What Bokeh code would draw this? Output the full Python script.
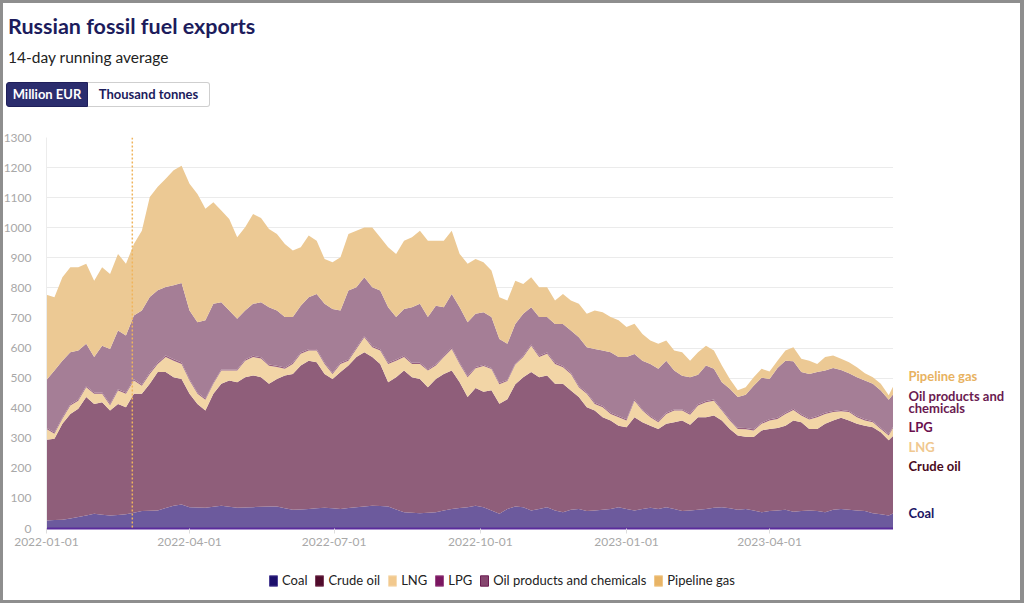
import pandas as pd
from bokeh.plotting import figure
from bokeh.models import (ColumnDataSource, Range1d, FixedTicker, Span, Label,
                          Legend, LegendItem, Div, DatetimeTickFormatter)
from bokeh.layouts import column, row
from bokeh.embed import file_html
from bokeh.resources import INLINE

# ---------------- data (Million EUR, 14-day running average) ----------------
start_date = "2022-01-01"
day_offsets = [0, 5, 10, 15, 20, 25, 30, 35, 40, 45, 50, 55, 60, 65, 70, 75, 80, 85, 90, 95,
               100, 105, 110, 115, 120, 125, 130, 135, 140, 145, 150, 155, 160, 165, 170, 175,
               180, 185, 190, 195, 200, 205, 210, 215, 220, 225, 230, 235, 240, 245, 250, 255,
               260, 265, 270, 275, 280, 285, 290, 295, 300, 305, 310, 315, 320, 325, 330, 335,
               340, 345, 350, 355, 360, 365, 370, 375, 380, 385, 390, 395, 400, 405, 410, 415,
               420, 425, 430, 435, 440, 445, 450, 455, 460, 465, 470, 475, 480, 485, 490, 495,
               500, 505, 510, 515, 520, 525, 530, 533]

coal = [27, 28, 29, 33, 38, 43, 49, 46, 43, 45, 47, 52, 58, 59, 60, 68, 76, 80, 71, 70,
        69, 72, 76, 72, 69, 70, 71, 72, 73, 73, 67, 62, 63, 65, 67, 69,
        67, 65, 68, 71, 73, 76, 75, 73, 63, 54, 52, 51, 52, 54, 60, 65,
        68, 71, 76, 71, 60, 49, 65, 73, 71, 60, 65, 71, 60, 54, 62, 65,
        58, 60, 62, 65, 71, 65, 60, 65, 69, 65, 71, 65, 58, 60, 62, 65,
        69, 71, 67, 62, 65, 60, 54, 58, 60, 62, 56, 58, 60, 58, 54, 62,
        65, 62, 60, 58, 51, 47, 43, 51]

crude_oil = [268, 270, 319, 348, 360, 394, 365, 374, 349, 369, 356, 396, 390, 422, 460, 452, 427, 417, 377, 344,
             323, 376, 405, 420, 417, 433, 438, 431, 408, 424, 442, 452, 479, 493, 486, 445,
             430, 455, 474, 499, 513, 494, 472, 413, 440, 471, 451, 446, 418, 443, 454, 460,
             418, 366, 391, 384, 400, 366, 365, 407, 432, 460, 438, 438, 421, 427, 397, 372,
             345, 332, 308, 294, 271, 272, 310, 288, 273, 266, 277, 288, 301, 285, 308, 305,
             307, 288, 264, 247, 240, 244, 272, 273, 274, 280, 303, 295, 271, 273, 294, 297,
             303, 297, 288, 284, 286, 273, 250, 258]

lng = [36, 17, 17, 28, 27, 33, 34, 28, 18, 45, 45, 44, 27, 33, 27, 50, 55, 50, 44, 34,
       36, 33, 44, 33, 39, 55, 61, 62, 60, 40, 22, 33, 39, 34, 39, 33,
       17, 27, 16, 27, 50, 33, 45, 61, 55, 45, 44, 50, 55, 45, 56, 72,
       61, 66, 66, 85, 70, 65, 60, 65, 67, 88, 67, 72, 66, 55, 55, 33,
       45, 22, 33, 22, 28, 22, 55, 39, 28, 22, 33, 39, 33, 33, 39, 50,
       49, 33, 28, 22, 25, 22, 22, 28, 30, 39, 35, 23, 31, 39, 33, 28,
       22, 28, 22, 17, 16, 11, 16, 28]

lpg = [4, 4, 4, 4, 4, 4, 4, 4, 4, 4, 4, 4, 4, 5, 5, 5, 5, 5, 4, 4,
       4, 4, 4, 4, 4, 4, 4, 4, 4, 4, 4, 4, 4, 4, 4, 4,
       4, 4, 4, 4, 4, 4, 4, 4, 4, 4, 4, 4, 4, 4, 4, 4,
       4, 4, 4, 4, 4, 4, 4, 4, 4, 4, 4, 4, 4, 4, 4, 4,
       4, 4, 4, 4, 4, 4, 4, 4, 4, 4, 4, 4, 4, 4, 4, 4,
       4, 4, 4, 4, 4, 4, 4, 4, 4, 4, 4, 4, 4, 4, 4, 4,
       4, 4, 4, 4, 4, 4, 4, 4]

oil_products = [159, 206, 189, 173, 163, 140, 118, 156, 183, 195, 190, 212, 246, 251, 240, 228, 246, 264, 229, 234,
                260, 262, 223, 196, 168, 163, 173, 183, 191, 184, 168, 152, 156, 173, 184, 196,
                212, 174, 229, 201, 195, 195, 195, 185, 141, 156, 185, 196, 174, 195, 162, 179,
                185, 179, 177, 175, 169, 146, 120, 131, 140, 124, 129, 118, 129, 140, 140, 162,
                151, 179, 185, 201, 196, 207, 151, 162, 173, 174, 173, 129, 112, 121, 98, 118,
                102, 90, 102, 102, 111, 145, 149, 134, 166, 173, 158, 140, 148, 146, 140, 143,
                133, 125, 129, 129, 124, 124, 115, 107]

pipeline_gas = [283, 244, 277, 283, 277, 266, 254, 261, 249, 255, 238, 238, 265, 332, 344, 360, 382, 390, 421, 426,
                371, 338, 305, 304, 271, 277, 299, 280, 260, 254, 243, 221, 194, 205, 177, 149,
                155, 177, 188, 188, 166, 199, 177, 199, 210, 227, 232, 243, 254, 216, 221, 210,
                177, 194, 182, 166, 155, 139, 144, 144, 99, 99, 99, 99, 78, 100, 100, 111,
                111, 128, 127, 117, 122, 100, 101, 89, 78, 83, 67, 67, 78, 55, 75, 66,
                61, 56, 32, 23, 25, 28, 30, 25, 24, 34, 47, 44, 44, 27, 45, 41,
                37, 37, 33, 24, 22, 22, 15, 27]

series_names = ["Coal", "Crude oil", "LNG", "LPG", "Oil products and chemicals", "Pipeline gas"]
invasion_date = "2022-02-24"
x_tick_labels = ["2022-01-01", "2022-04-01", "2022-07-01", "2022-10-01", "2023-01-01", "2023-04-01"]
y_ticks = [0, 100, 200, 300, 400, 500, 600, 700, 800, 900, 1000, 1100, 1200, 1300]

# ---------------- styling ----------------
area_colors = ["#6c5a9d", "#8f5e7a", "#f2d5a6", "#97607f", "#a57e96", "#ecc994"]
swatch_fill = ["#1c0f6c", "#4f0b2b", "#f2c98e", "#7a1660", "#86466f", "#e8b466"]
swatch_line = ["#4d4195", "#7a3c58", "#f6dcb6", "#9a4a86", "#6c1c52", "#f0c88a"]
label_colors = ["#1b1464", "#4a0a20", "#f0c890", "#6a0f4e", "#6a1a50", "#e8b25f"]
FONT = "Lato"

dates = pd.to_datetime(start_date) + pd.to_timedelta(day_offsets, unit="D")
keys = ["coal", "crude", "lng", "lpg", "oil", "pipe"]
source = ColumnDataSource(dict(date=dates, coal=coal, crude=crude_oil, lng=lng,
                               lpg=lpg, oil=oil_products, pipe=pipeline_gas))

y_range = Range1d(0, 1300)

# ---------------- main chart ----------------
p = figure(width=893, height=445, x_axis_type="datetime",
           x_range=Range1d(dates[0], dates[-1]), y_range=y_range,
           output_backend="svg", toolbar_location=None, margin=0,
           min_border_left=42, min_border_right=0, min_border_top=24, min_border_bottom=30)
p.background_fill_color = "white"
p.border_fill_color = "white"
p.outline_line_color = None

p.varea_stack(stackers=keys, x="date", color=area_colors, source=source)

p.add_layout(Span(location=pd.Timestamp(invasion_date), dimension="height",
                  line_color="#efb45c", line_dash="2 2", line_width=1.5))

p.yaxis.ticker = FixedTicker(ticks=y_ticks)
p.yaxis.major_tick_line_color = None
p.yaxis.minor_tick_line_color = None
p.yaxis.axis_line_color = "#ececec"
p.yaxis.major_label_text_color = "#a8a8a8"
p.yaxis.major_label_text_font = FONT
p.yaxis.major_label_text_font_size = "12px"
p.yaxis.major_label_standoff = 9

p.xaxis.ticker = FixedTicker(ticks=[pd.Timestamp(t).value // 10**6 for t in x_tick_labels])
p.xaxis.formatter = DatetimeTickFormatter(days="%Y-%m-%d", months="%Y-%m-%d", years="%Y-%m-%d")
p.xaxis.major_tick_line_color = "#dddddd"
p.xaxis.major_tick_out = 5
p.xaxis.major_tick_in = 0
p.xaxis.minor_tick_line_color = None
p.xaxis.axis_line_color = "#5b2c9c"
p.xaxis.axis_line_width = 2
p.xaxis.major_label_text_color = "#a8a8a8"
p.xaxis.major_label_text_font = FONT
p.xaxis.major_label_text_font_size = "12px"
p.xaxis.major_label_standoff = 4

p.xgrid.grid_line_color = None
p.ygrid.grid_line_color = "#ebebeb"

# ---------------- right-hand end labels (same y scale) ----------------
pr = figure(width=131, height=445, x_range=Range1d(0, 1), y_range=y_range,
            output_backend="svg", toolbar_location=None, margin=0,
            x_axis_location=None, y_axis_location=None,
            min_border_left=0, min_border_right=0, min_border_top=24, min_border_bottom=30)
pr.grid.visible = False
pr.outline_line_color = None
pr.background_fill_color = "white"
pr.border_fill_color = "white"
end_labels = [("Pipeline gas", 507, label_colors[5]),
              ("Oil products and", 442, label_colors[4]),
              ("chemicals", 402, label_colors[4]),
              ("LPG", 336, label_colors[3]),
              ("LNG", 272, label_colors[2]),
              ("Crude oil", 209, label_colors[1]),
              ("Coal", 50, label_colors[0])]
for txt, yv, col in end_labels:
    pr.add_layout(Label(x=0, y=yv, x_offset=15, text=txt, text_color=col,
                        text_font=FONT, text_font_size="13px", text_font_style="bold",
                        text_baseline="middle", text_align="left"))

# ---------------- legend strip ----------------
pl = figure(width=1024, height=45, x_range=Range1d(0, 1), y_range=Range1d(0, 1),
            output_backend="svg", toolbar_location=None, margin=0,
            x_axis_location=None, y_axis_location=None,
            min_border_left=0, min_border_right=0, min_border_top=0, min_border_bottom=0)
pl.grid.visible = False
pl.outline_line_color = None
pl.background_fill_color = "white"
pl.border_fill_color = "white"
items = []
for name, fc, lc in zip(series_names, swatch_fill, swatch_line):
    # hidden helper glyph (outside the visible range) that only supplies the legend swatch
    r = pl.rect(x=[5], y=[5], width=0.1, height=0.1, fill_color=fc, line_color=lc, line_width=1)
    items.append(LegendItem(label=name, renderers=[r]))
legend = Legend(items=items, orientation="horizontal", location=(268, 15),
                border_line_color=None, background_fill_alpha=0,
                label_text_font=FONT, label_text_font_size="13px", label_text_color="#222222",
                glyph_width=10, glyph_height=13, label_standoff=4, spacing=7,
                padding=0, margin=0, label_height=15)
pl.add_layout(legend)

# ---------------- header ----------------
header_html = """
<div style="position:relative;width:1024px;height:113px;font-family:Lato,sans-serif;background:#fff;">
  <div style="position:absolute;left:8px;top:14px;font-size:21.5px;line-height:24px;font-weight:700;color:#1c1c5c;white-space:nowrap;">Russian fossil fuel exports</div>
  <div style="position:absolute;left:8px;top:47px;font-size:15.5px;line-height:20px;color:#222;white-space:nowrap;">14-day running average</div>
  <div style="position:absolute;left:6px;top:82px;width:82px;height:25px;box-sizing:border-box;background:#2b2d6e;border:1px solid #1f1f5a;border-radius:3px 0 0 3px;color:#fff;font-weight:700;font-size:13px;display:flex;align-items:center;justify-content:center;white-space:nowrap;">Million EUR</div>
  <div style="position:absolute;left:88px;top:82px;width:122px;height:25px;box-sizing:border-box;background:#fff;border:1px solid #cfcfcf;border-left:none;border-radius:0 3px 3px 0;color:#1c1c5c;font-weight:700;font-size:13px;display:flex;align-items:center;justify-content:center;white-space:nowrap;">Thousand tonnes</div>
  <div style="position:fixed;left:0;top:0;width:1024px;height:603px;box-sizing:border-box;border-style:solid;border-color:#8e8e8e;border-width:3px 4px 3px 3px;z-index:100;pointer-events:none;"></div>
</div>
"""
header = Div(text=header_html, width=1024, height=113, margin=0,
             styles={"background-color": "white"})

page = column(header, row(p, pr, spacing=0, margin=0), pl, spacing=0, margin=0,
              styles={"background-color": "white"})

open("out.html", "w").write(file_html(page, INLINE))
